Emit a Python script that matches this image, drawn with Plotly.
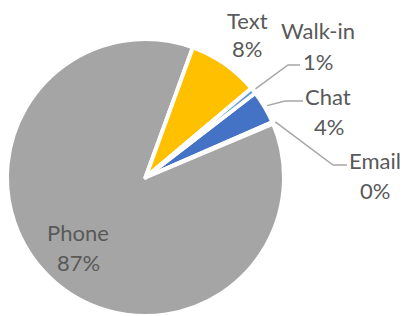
import math
import plotly.graph_objects as go

# data (alphabetical order, as in the source sheet)
labels = ["Chat", "Email", "Phone", "Text", "Walk-in"]
values = [3.9, 0.2, 86.9, 8.3, 0.7]
colors = ["#4472C4", "#ED7D31", "#A5A5A5", "#FFC000", "#5B9BD5"]

W, H = 403, 316
ROT = 52.4  # start angle of the first slice, degrees clockwise from 12 o'clock

# pie geometry in pixels
cx, cy, R = 145.5, 177.5, 138.5

def fx(x):
    return x / W

def fy(y):
    return 1 - y / H

dom_x = [max(0, fx(cx - R)), min(1, fx(cx + R))]
dom_y = [max(0, fy(cy + R)), min(1, fy(cy - R))]

fig = go.Figure(go.Pie(
    labels=labels, values=values, sort=False, direction="clockwise",
    rotation=ROT, marker=dict(colors=colors, line=dict(color="white", width=4)),
    textinfo="none", hoverinfo="label+percent", showlegend=False,
    domain=dict(x=dom_x, y=dom_y),
))

total = sum(values)
pct = {l: f"{round(v / total * 100)}%" for l, v in zip(labels, values)}
mid = {}
acc = ROT
for l, v in zip(labels, values):
    a = v / total * 360
    mid[l] = acc + a / 2
    acc += a

TXT = "#595959"
FONT = "Lato"
FS = 22

# label placement (pixels): name centre, percent centre
label_pos = {
    "Text": ((247, 20), (247, 48)),
    "Walk-in": ((318, 30), (318, 61)),
    "Chat": ((328, 96), (329, 126)),
    "Email": ((375, 160), (375, 190)),
    "Phone": ((78, 232), (78, 262)),
}
annotations = []
for l, ((nx, ny), (qx, qy)) in label_pos.items():
    for (x, y), t in (((nx, ny), l), ((qx, qy), pct[l])):
        annotations.append(dict(x=fx(x), y=fy(y), xref="paper", yref="paper", text=t,
                                showarrow=False, xanchor="center", yanchor="middle",
                                font=dict(family=FONT, size=FS, color=TXT)))

# leader lines: elbow and end in pixels
leaders = {
    "Walk-in": ((288, 65), (300, 65)),
    "Chat": ((285, 101), (303, 101)),
    "Email": ((333, 165), (347, 165)),
}
shapes = []
for l, (elb, end) in leaders.items():
    a = math.radians(mid[l])
    rr = R * 1.02
    sx, sy = cx + rr * math.sin(a), cy - rr * math.cos(a)
    pts = [(sx, sy), elb, end]
    path = "M " + " L ".join(f"{fx(p[0]):.5f},{fy(p[1]):.5f}" for p in pts)
    shapes.append(dict(type="path", path=path, xref="paper", yref="paper",
                       line=dict(color="#A6A6A6", width=1.5)))

fig.update_layout(width=W, height=H, margin=dict(l=0, r=0, t=0, b=0),
                  paper_bgcolor="white", plot_bgcolor="white",
                  annotations=annotations, shapes=shapes)
fig.write_html("out.html",
               config={"displayModeBar": False},
               post_script="document.documentElement.style.overflow='hidden';"
                           "document.body.style.margin='0';"
                           "document.body.style.overflow='hidden';")
